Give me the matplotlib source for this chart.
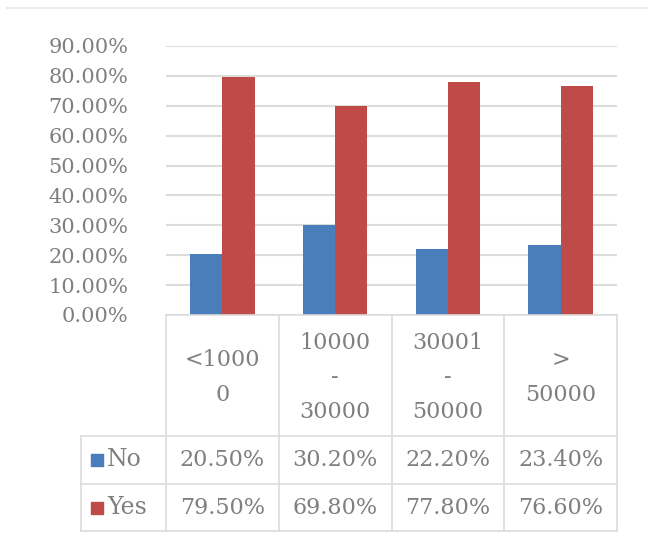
import matplotlib
matplotlib.use("Agg")
import matplotlib.pyplot as plt
from matplotlib.lines import Line2D
from matplotlib.patches import Rectangle

categories = ["<1000\n0", "10000\n-\n30000", "30001\n-\n50000", ">\n50000"]
series_names = ["No", "Yes"]
no_values = [20.5, 30.2, 22.2, 23.4]
yes_values = [79.5, 69.8, 77.8, 76.6]
yticks = [0, 10, 20, 30, 40, 50, 60, 70, 80, 90]

BLUE = "#4a7ebb"
RED = "#be4b48"
GRID = "#dcdcdc"
TXT = "#7f7f7f"
FONT = "DejaVu Serif"

W, H = 648, 546
fig = plt.figure(figsize=(W / 100, H / 100), dpi=100)
fig.patch.set_facecolor("white")

def fx(px):
    return px / W

def fy(py):
    return (H - py) / H

# top faint border line
fig.add_artist(Line2D([fx(7), fx(648)], [fy(8), fy(8)], color="#ebebeb", lw=1.5))

# ---------- bar plot ----------
pl, pr, pt, pb = 166, 617, 46, 315
ax = fig.add_axes([fx(pl), fy(pb), fx(pr - pl), (pb - pt) / H])
n = len(categories)
x = list(range(n))
bw = 0.285
ax.bar([i - bw / 2 for i in x], no_values, width=bw, color=BLUE, zorder=3)
ax.bar([i + bw / 2 for i in x], yes_values, width=bw, color=RED, zorder=3)
ax.set_xlim(-0.5, n - 0.5)
ax.set_ylim(0, 90)
ax.set_yticks(yticks)
ax.set_yticklabels([f"{v:.2f}%" for v in yticks], fontfamily=FONT, fontsize=15, color=TXT)
ax.set_xticks([])
ax.tick_params(axis="y", length=0, pad=27)
ax.grid(axis="y", color=GRID, lw=1.5, zorder=0)
for s in ax.spines.values():
    s.set_visible(False)

# ---------- data table ----------
tl, tr, tt, tb = 81, 617, 315, 531
left_x = -0.5 - (pl - tl) / ((pr - pl) / n)
tax = fig.add_axes([fx(tl), fy(tb), fx(tr - tl), (tb - tt) / H])
tax.set_xlim(left_x, n - 0.5)
tax.set_ylim(tb - tt, 0)
tax.axis("off")
row_edges = [0, 121, 169, tb - tt]
lw = 1.2
# horizontal lines
tax.plot([-0.5, n - 0.5], [0, 0], color=GRID, lw=lw, clip_on=False)
for yv in row_edges[1:]:
    tax.plot([left_x, n - 0.5], [yv, yv], color=GRID, lw=lw, clip_on=False)
# vertical lines
for i in range(n + 1):
    tax.plot([i - 0.5, i - 0.5], [0, row_edges[-1]], color=GRID, lw=lw, clip_on=False)
tax.plot([left_x, left_x], [row_edges[1], row_edges[-1]], color=GRID, lw=lw, clip_on=False)

# header labels
hc = (row_edges[0] + row_edges[1]) / 2
for i, lab in enumerate(categories):
    tax.text(i, hc + 2, lab, ha="center", va="center", fontfamily=FONT, fontsize=16,
             color=TXT, linespacing=1.75)

# value rows
rows = [no_values, yes_values]
colors = [BLUE, RED]
unit = (pr - pl) / n
for r, (name, vals, c) in enumerate(zip(series_names, rows, colors)):
    yc = (row_edges[r + 1] + row_edges[r + 2]) / 2
    sq = 12 / unit
    tax.add_patch(Rectangle((left_x + 10 / unit, yc - 6), sq, 12, color=c, clip_on=False))
    tax.text(left_x + 26 / unit, yc, name, ha="left", va="center", fontfamily=FONT,
             fontsize=17, color=TXT)
    for i, v in enumerate(vals):
        tax.text(i, yc, f"{v:.2f}%", ha="center", va="center", fontfamily=FONT,
                 fontsize=16, color=TXT)

fig.savefig("out.png", dpi=100, facecolor="white")
